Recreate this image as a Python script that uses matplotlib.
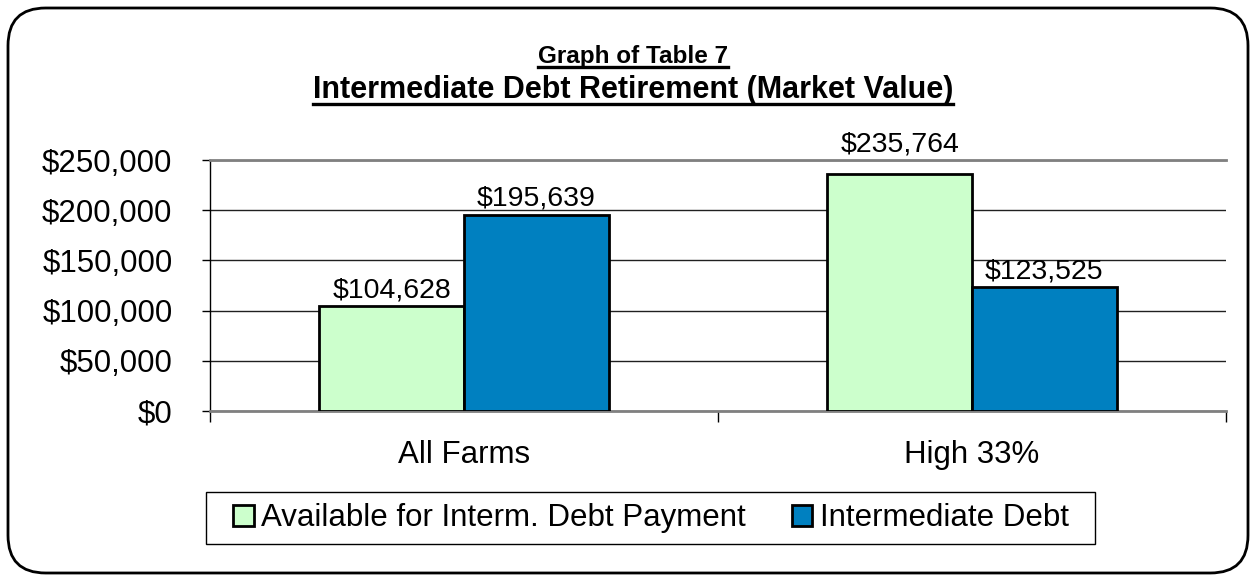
import numpy as np
import matplotlib
matplotlib.use("Agg")
import matplotlib.pyplot as plt
from matplotlib.patches import FancyBboxPatch, Rectangle
from matplotlib.lines import Line2D

categories = ["All Farms", "High 33%"]
series_names = ["Available for Interm. Debt Payment", "Intermediate Debt"]
available = [104628, 235764]
debt = [195639, 123525]
yticks = [0, 50000, 100000, 150000, 200000, 250000]

plt.rcParams['font.family'] = ['Liberation Sans', 'DejaVu Sans']

fig = plt.figure(figsize=(12.56, 5.81), dpi=100)
W, H = 1256, 581

# rounded frame round the whole chart
frame = FancyBboxPatch((8 / W, 8 / H), 1240 / W, 565 / H,
                       boxstyle="round,pad=0,rounding_size=0.03",
                       transform=fig.transFigure, fill=False,
                       edgecolor="black", linewidth=2, mutation_aspect=W / H)
fig.patches.append(frame)

ax = fig.add_axes([210 / W, 1 - 411 / H, 1016 / W, 251 / H])
x = np.arange(len(categories))
bw = 0.285
ymax = 250000
b1 = ax.bar(x - bw / 2, available, bw, color="#CCFFCC", edgecolor="black",
            linewidth=2, label=series_names[0], zorder=3)
b2 = ax.bar(x + bw / 2, debt, bw, color="#0080C0", edgecolor="black",
            linewidth=2, label=series_names[1], zorder=3)

for bars, vals in ((b1, available), (b2, debt)):
    for r, v in zip(bars, vals):
        # labels that would cross the top border sit above the plot area
        y = v if v < ymax * 0.86 else ymax
        ax.annotate("${:,}".format(v), (r.get_x() + r.get_width() / 2, y),
                    xytext=(0, 2), textcoords="offset points",
                    ha="center", va="bottom", fontsize=20.5,
                    annotation_clip=False)

ax.set_xlim(-0.5, 1.5)
ax.set_ylim(0, ymax)
ax.set_yticks(yticks)
ax.set_yticklabels(["${:,}".format(t) for t in yticks], fontsize=22.5)
ax.yaxis.grid(True, color="#202020", linewidth=1, zorder=0)
ax.tick_params(axis="y", length=6, width=1, direction="out", pad=21)

ax.set_xticks(x)
ax.set_xticklabels(categories, fontsize=22.5)
ax.tick_params(axis="x", length=0, pad=21)
# category separators
ax.set_xticks([-0.5, 0.5, 1.5], minor=True)
ax.tick_params(axis="x", which="minor", length=8, width=1, direction="out")

ax.spines["right"].set_visible(False)
ax.spines["left"].set_linewidth(1)
for s in ("top", "bottom"):
    ax.spines[s].set_color("#808080")
    ax.spines[s].set_linewidth(2)

leg = fig.legend(handles=[b1, b2], loc="center", ncol=2,
                 bbox_to_anchor=(651 / W, 1 - 518 / H), fontsize=22.5,
                 frameon=False,
                 handlelength=0.66, handleheight=0.66, handletextpad=0.25,
                 columnspacing=1.45, borderpad=0.3, borderaxespad=0)
# legend box
fig.patches.append(Rectangle((206 / W, 1 - 544 / H), 889 / W, 52 / H,
                             transform=fig.transFigure, fill=False,
                             edgecolor="black", linewidth=1))

t1 = fig.text(633 / W, 1 - 63 / H, "Graph of Table 7", ha="center",
              va="baseline", fontsize=17.5, fontweight="bold")
t2 = fig.text(633 / W, 1 - 98 / H, "Intermediate Debt Retirement (Market Value)",
              ha="center", va="baseline", fontsize=22, fontweight="bold")

# underline the two titles
fig.canvas.draw()
r = fig.canvas.get_renderer()
for t, yl in ((t1, 67), (t2, 104)):
    bb = t.get_window_extent(renderer=r).transformed(fig.transFigure.inverted())
    fig.lines.append(Line2D([bb.x0, bb.x1], [1 - yl / H, 1 - yl / H],
                            transform=fig.transFigure, color="black",
                            linewidth=2.4))

fig.savefig("out.png", dpi=100)
